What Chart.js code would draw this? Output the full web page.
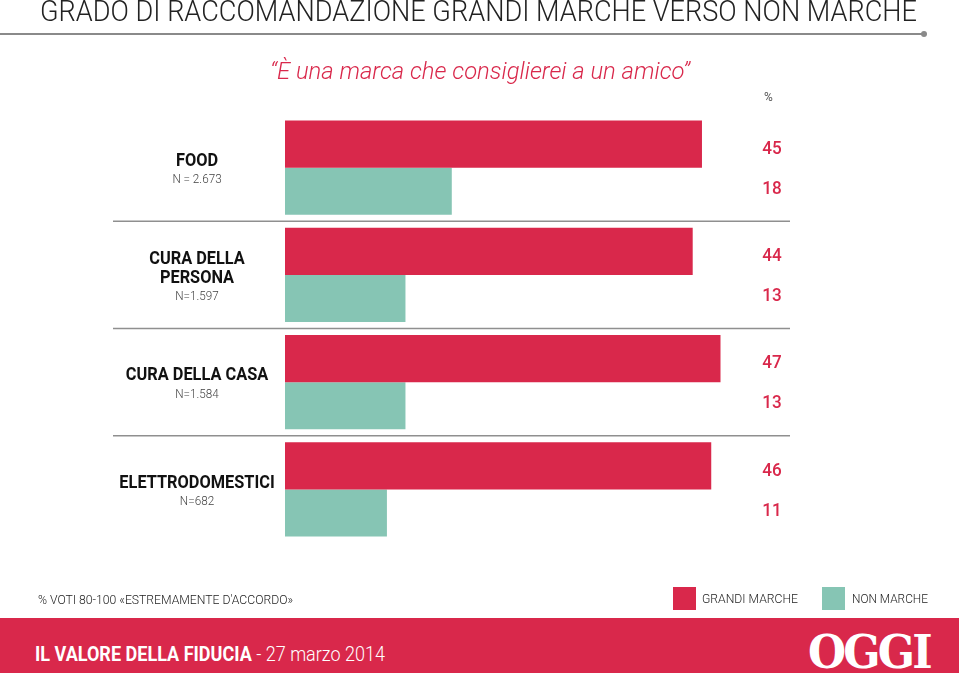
<!DOCTYPE html>
<html>
<head>
<meta charset="utf-8">
<script src="https://cdn.jsdelivr.net/npm/chart.js@4.4.1/dist/chart.umd.min.js"></script>
<style>
  body { margin: 0; width: 959px; height: 673px; overflow: hidden; background: #fff; position: relative; font-family: Roboto, "Liberation Sans", sans-serif; }
  #chart { position: absolute; left: 0; top: 0; }
  .txt { position: absolute; white-space: nowrap; transform-origin: left top; line-height: 1; }
  #title { left: 40px; top: -4px; font-size: 30px; font-weight: 300; color: #222; }
  #rule { position: absolute; left: 0; top: 33px; width: 924px; height: 2px; background: #8a8a8a; }
  #dot { position: absolute; left: 921px; top: 31px; width: 6px; height: 6px; border-radius: 3px; background: #8a8a8a; }
  #subtitle { left: 270px; top: 60px; font-size: 23px; font-weight: 300; font-style: italic; color: #d9284b; }
  #pct { left: 764px; top: 91px; font-size: 12px; color: #555; }
  #note { left: 38px; top: 593px; font-size: 13px; font-weight: 300; color: #222; }
  .box { position: absolute; width: 23px; height: 23px; top: 587px; }
  .leg { top: 592px; font-size: 13px; font-weight: 300; color: #222; }
  #band { position: absolute; left: 0; top: 618px; width: 959px; height: 55px; background: #d9284b; }
  #footer { left: 35px; top: 644px; font-size: 21px; color: #fff; }
  #footer b { font-weight: 700; }
  #footer span { font-weight: 300; }
  #logo { left: 808px; top: 628px; font-size: 47px; font-weight: 900; font-family: "DejaVu Serif", "Liberation Serif", serif; color: #fff; letter-spacing: -3px; }
</style>
</head>
<body>
<canvas id="chart" width="959" height="673"></canvas>
<div class="txt" id="title" data-w="877">GRADO DI RACCOMANDAZIONE GRANDI MARCHE VERSO NON MARCHE</div>
<div id="rule"></div><div id="dot"></div>
<div class="txt" id="subtitle" data-w="420">“È una marca che consiglierei a un amico”</div>
<div class="txt" id="pct">%</div>
<div class="txt" id="note" data-w="255">% VOTI 80-100 «ESTREMAMENTE D'ACCORDO»</div>
<div class="box" style="left:673px;background:#d9284b"></div>
<div class="txt leg" style="left:702px" data-w="96">GRANDI MARCHE</div>
<div class="box" style="left:822px;background:#86c5b4"></div>
<div class="txt leg" style="left:852px" data-w="76">NON MARCHE</div>
<div id="band"></div>
<div class="txt" id="footer" data-w="350"><b>IL VALORE DELLA FIDUCIA</b><span> - 27 marzo 2014</span></div>
<div class="txt" id="logo" data-w="122">OGGI</div>
<script>
// dati
const categories = ['FOOD', 'CURA DELLA PERSONA', 'CURA DELLA CASA', 'ELETTRODOMESTICI'];
const categoryLines = [['FOOD'], ['CURA DELLA', 'PERSONA'], ['CURA DELLA CASA'], ['ELETTRODOMESTICI']];
const sampleSizes = ['N = 2.673', 'N=1.597', 'N=1.584', 'N=682'];
const grandiMarche = [45, 44, 47, 46];
const nonMarche = [18, 13, 13, 11];

const RED = '#d9284b';
const TEAL = '#86c5b4';

// stringe i testi html alla larghezza dell'originale
document.querySelectorAll('.txt[data-w]').forEach(function(el) {
  const w = el.getBoundingClientRect().width;
  el.style.transform = 'scaleX(' + (parseFloat(el.dataset.w) / w) + ')';
});

function narrowText(ctx, text, x, y, squeeze) {
  ctx.save();
  ctx.translate(x, y);
  ctx.scale(squeeze, 1);
  ctx.fillText(text, 0, 0);
  ctx.restore();
}

const overlay = {
  id: 'overlay',
  afterDatasetsDraw(chart) {
    const ctx = chart.ctx;
    const y = chart.scales.y;

    // linee di separazione
    ctx.save();
    ctx.strokeStyle = '#8f8f8f';
    ctx.lineWidth = 1.5;
    for (let i = 0; i < categories.length - 1; i++) {
      const yy = (y.getPixelForValue(i) + y.getPixelForValue(i + 1)) / 2;
      ctx.beginPath();
      ctx.moveTo(113, yy);
      ctx.lineTo(790, yy);
      ctx.stroke();
    }

    // etichette categorie
    ctx.textAlign = 'center';
    ctx.textBaseline = 'middle';
    categories.forEach(function(c, i) {
      const cy = y.getPixelForValue(i);
      const lines = categoryLines[i];
      const total = lines.length * 19 + 18;
      let ty = cy - total / 2 + 12;
      ctx.fillStyle = '#111';
      ctx.font = 'bold 19px Roboto';
      lines.forEach(function(l) {
        narrowText(ctx, l, 197, ty, 0.86);
        ty += 19;
      });
      ctx.fillStyle = '#444';
      ctx.font = '300 13px Roboto';
      narrowText(ctx, sampleSizes[i], 197, ty, 0.9);
    });

    // valori
    ctx.fillStyle = RED;
    ctx.font = '500 19px Roboto';
    chart.data.datasets.forEach(function(ds, di) {
      const meta = chart.getDatasetMeta(di);
      meta.data.forEach(function(bar, i) {
        const off = di === 0 ? 5 : -2;
        narrowText(ctx, String(ds.data[i]), 772, bar.y + off, 0.9);
      });
    });
    ctx.restore();
  }
};

new Chart(document.getElementById('chart'), {
  type: 'bar',
  data: {
    labels: categories,
    datasets: [
      { label: 'GRANDI MARCHE', data: grandiMarche, backgroundColor: RED },
      { label: 'NON MARCHE', data: nonMarche, backgroundColor: TEAL }
    ]
  },
  options: {
    indexAxis: 'y',
    responsive: false,
    animation: false,
    layout: { padding: { left: 285, right: 169, top: 114, bottom: 130 } },
    datasets: { bar: { categoryPercentage: 0.878, barPercentage: 1 } },
    scales: {
      x: { display: false, min: 0, max: 54.5 },
      y: { display: false }
    },
    plugins: { legend: { display: false }, tooltip: { enabled: false } }
  },
  plugins: [overlay]
});
</script>
</body>
</html>
